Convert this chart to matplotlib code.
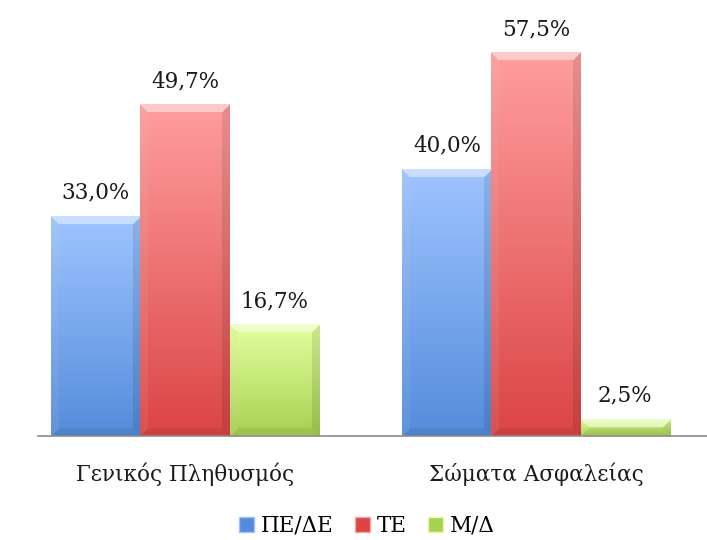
import numpy as np
import matplotlib
matplotlib.use("Agg")
from matplotlib import pyplot as plt
from matplotlib.patches import Patch

groups = ["Γενικός Πληθυσμός", "Σώματα Ασφαλείας"]
series = ["ΠΕ/ΔΕ", "ΤΕ", "Μ/Δ"]
values = {
    "ΠΕ/ΔΕ": [33.0, 40.0],
    "ΤΕ": [49.7, 57.5],
    "Μ/Δ": [16.7, 2.5],
}
labels = {
    "ΠΕ/ΔΕ": ["33,0%", "40,0%"],
    "ΤΕ": ["49,7%", "57,5%"],
    "Μ/Δ": ["16,7%", "2,5%"],
}

# top colour, bottom colour of each series
shades = {
    "ΠΕ/ΔΕ": ((0.62, 0.77, 1.0), (0.33, 0.55, 0.86)),
    "ΤΕ": ((1.0, 0.62, 0.62), (0.86, 0.27, 0.27)),
    "Μ/Δ": ((0.89, 1.0, 0.62), (0.66, 0.82, 0.32)),
}

plt.rcParams["font.family"] = ["DejaVu Serif"]


def bar_image(top, bottom, wpx, hpx, bevel=8):
    hpx = max(int(round(hpx)), 2)
    wpx = max(int(round(wpx)), 2)
    t = np.linspace(0, 1, hpx)[:, None, None]
    top = np.array(top)[None, None, :]
    bottom = np.array(bottom)[None, None, :]
    img = top * (1 - t) + bottom * t
    img = np.repeat(img, wpx, axis=1)
    yy, xx = np.mgrid[0:hpx, 0:wpx]
    d = np.stack([yy, xx, wpx - 1 - xx, hpx - 1 - yy])  # top, left, right, bottom
    near = d.argmin(axis=0)
    inside = d.min(axis=0) < min(bevel, hpx // 2)
    m = inside & (near == 0)
    img[m] = img[m] * 0.55 + 0.45
    m = inside & (near == 1)
    img[m] = img[m] * 0.9 + 0.08
    m = inside & (near == 2)
    img[m] = img[m] * 0.9
    m = inside & (near == 3)
    img[m] = img[m] * 0.93
    return np.clip(img, 0, 1)


def main():
    fig = plt.figure(figsize=(7.07, 5.40), dpi=100)
    ax = fig.add_axes([38 / 707, 104 / 540, 669 / 707, 400 / 540])
    x = np.arange(len(groups))
    width = 0.254

    for i, name in enumerate(series):
        pos = x + (i - 1) * width
        bars = ax.bar(pos, values[name], width, color="none", edgecolor="none")
        for bar, txt in zip(bars, labels[name]):
            bx, by = bar.get_x(), bar.get_y()
            bw, bh = bar.get_width(), bar.get_height()
            img = bar_image(shades[name][0], shades[name][1], bw * 351, bh * 6.66)
            ax.imshow(img, extent=(bx, bx + bw, by, by + bh), aspect="auto",
                      interpolation="bilinear", zorder=2)
            ax.annotate(txt, (bx + bw / 2, by + bh), xytext=(0, 17),
                        textcoords="offset points", ha="center", va="center",
                        fontsize=15.5, color="#1a1a1a")

    ax.set_xlim(-0.4188, 1.487)
    ax.set_ylim(0, 60)
    ax.set_xticks(x)
    ax.set_xticklabels(groups, fontsize=15.5, color="#1a1a1a")
    ax.tick_params(axis="x", length=0, pad=19)
    ax.set_yticks([])
    for s in ["top", "right", "left"]:
        ax.spines[s].set_visible(False)
    ax.spines["bottom"].set_color("#8c8c8c")
    ax.spines["bottom"].set_linewidth(1.2)
    ax.spines["bottom"].set_zorder(3)

    handles = [Patch(facecolor=shades[n][1], edgecolor=shades[n][0], label=n) for n in series]
    fig.legend(handles=handles, loc="center", bbox_to_anchor=(367 / 707, 14 / 540), ncol=3,
               frameon=False, fontsize=15.5, handlelength=0.7, handleheight=0.7,
               handletextpad=0.3, columnspacing=1.0, borderpad=0)

    fig.savefig("out.png", dpi=100)


if __name__ == '__main__':
    main()
